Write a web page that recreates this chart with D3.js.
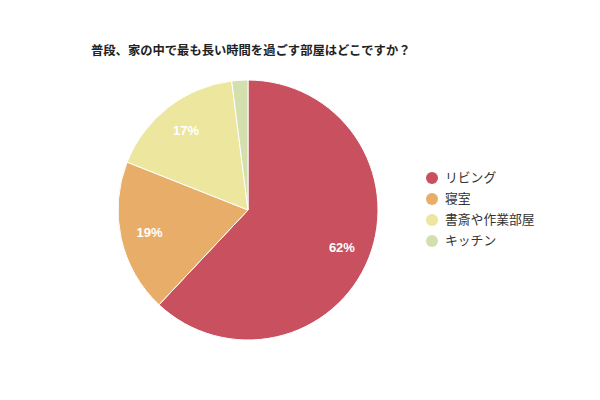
<!DOCTYPE html>
<html>
<head>
<meta charset="utf-8">
<script src="https://cdn.jsdelivr.net/npm/d3@7"></script>
<style>
  body { margin: 0; background: #fff; }
  text { font-family: "Noto Sans CJK JP", "Noto Sans", sans-serif; }
</style>
</head>
<body>
<div id="chart"></div>
<script>
const WIDTH = 600, HEIGHT = 400;

const categories = ["リビング", "寝室", "書斎や作業部屋", "キッチン"];
const values = [62, 19, 17, 2];
const colors = ["#c9505e", "#e8ad69", "#ede69f", "#d3e0ae"];

const cx = 248, cy = 210, R = 130;

const svg = d3.select("#chart").append("svg")
  .attr("width", WIDTH).attr("height", HEIGHT);

svg.append("text")
  .attr("x", 91).attr("y", 55)
  .attr("font-size", 12.3).attr("font-weight", "bold")
  .attr("fill", "#222")
  .text("普段、家の中で最も長い時間を過ごす部屋はどこですか？");

const data = categories.map((c, i) => ({ name: c, value: values[i], color: colors[i] }));

const pie = d3.pie().sort(null).value(d => d.value);
const arc = d3.arc().innerRadius(0).outerRadius(R);
const labelArc = d3.arc().innerRadius(101).outerRadius(101);

const g = svg.append("g").attr("transform", `translate(${cx},${cy})`);
const arcs = pie(data);

g.selectAll("path").data(arcs).join("path")
  .attr("d", arc)
  .attr("fill", d => d.data.color)
  .attr("stroke", "#fff").attr("stroke-width", 1);

g.selectAll("text.lbl").data(arcs.filter(d => d.data.value >= 5)).join("text")
  .attr("class", "lbl")
  .attr("transform", d => `translate(${labelArc.centroid(d)})`)
  .attr("text-anchor", "middle").attr("dy", "0.35em")
  .style("font-family", "'Liberation Sans', Arial, sans-serif")
  .attr("font-size", 13).attr("font-weight", "bold")
  .attr("fill", "#fff")
  .text(d => d.data.value + "%");

// legend
const leg = svg.append("g").attr("transform", "translate(432,178)");
const items = leg.selectAll("g").data(data).join("g")
  .attr("transform", (d, i) => `translate(0,${i * 21})`);
items.append("circle").attr("r", 6).attr("fill", d => d.color);
items.append("text")
  .attr("x", 13).attr("dy", "0.35em")
  .attr("font-size", 12.8).attr("fill", "#333")
  .text(d => d.name);
</script>
</body>
</html>
